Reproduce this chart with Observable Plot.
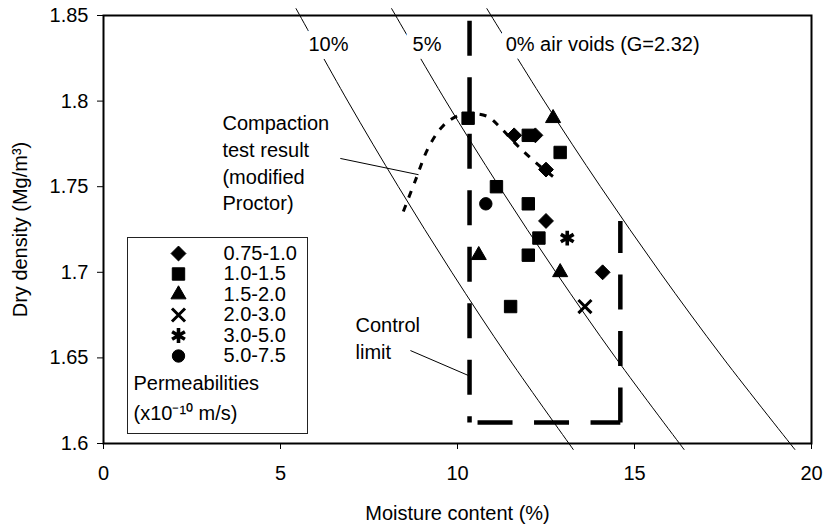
<!DOCTYPE html>
<html>
<head>
<meta charset="utf-8">
<script src="https://cdn.jsdelivr.net/npm/d3@7"></script>
<script src="https://cdn.jsdelivr.net/npm/@observablehq/plot@0.6"></script>
<style>
  html, body { margin: 0; padding: 0; background: #fff; }
  #chart svg { display: block; }
</style>
</head>
<body>
<div id="chart"></div>
<script>
// ---- Tick labels ----
const xTicks = [0, 5, 10, 15, 20];
const yTicks = [1.6, 1.65, 1.7, 1.75, 1.8, 1.85];

// ---- Legend categories (permeability, x10^-10 m/s) ----
const permLabels = ["0.75-1.0", "1.0-1.5", "1.5-2.0", "2.0-3.0", "3.0-5.0", "5.0-7.5"];

// ---- Measured points: moisture content (%) and dry density (Mg/m3) ----
const moistA = [11.6, 12.2, 12.5, 12.5, 14.1];            // 0.75-1.0 (diamond)
const densA  = [1.78, 1.78, 1.76, 1.73, 1.70];
const moistB = [10.3, 12.0, 12.9, 11.1, 12.0, 12.3, 12.0, 11.5]; // 1.0-1.5 (square)
const densB  = [1.79, 1.78, 1.77, 1.75, 1.74, 1.72, 1.71, 1.68];
const moistC = [12.7, 10.6, 12.9];                         // 1.5-2.0 (triangle)
const densC  = [1.79, 1.71, 1.70];
const moistD = [13.6];                                     // 2.0-3.0 (x)
const densD  = [1.68];
const moistE = [13.1];                                     // 3.0-5.0 (asterisk)
const densE  = [1.72];
const moistF = [10.8];                                     // 5.0-7.5 (circle)
const densF  = [1.74];

// ---- Air-void lines ----
const voidDens   = [1.854, 1.80, 1.75, 1.70, 1.65, 1.5965];
const void10Moist = [5.44, 6.90, 8.33, 9.84, 11.44, 13.27];
const void5Moist  = [8.14, 9.67, 11.18, 12.78, 14.47, 16.40];
const void0Moist  = [10.83, 12.45, 14.04, 15.72, 17.50, 19.53];

// ---- Compaction test result (modified Proctor) ----
const compMoist = [8.47, 8.81, 9.18, 9.60, 10.03, 10.37, 10.85, 11.21, 11.72, 12.34, 12.85];
const compDens  = [1.7355, 1.7536, 1.7729, 1.7857, 1.7916, 1.7928, 1.7910, 1.7846, 1.7735, 1.7618, 1.7536];

// ---- Control limit ----
const ctrlMoist = [10.34, 10.34, 14.6, 14.6];
const ctrlDens  = [1.847, 1.6123, 1.6123, 1.73];

const zip = (xs, ys) => xs.map((x, i) => ({x, y: ys[i]}));

const font = "'Liberation Sans', Arial, Helvetica, sans-serif";
const black = "#000";

const symDefs = [
  {symbol: "diamond2", r: 6.7, fill: black, stroke: black, sw: 1},
  {symbol: "square", r: 7, fill: black, stroke: black, sw: 1},
  {symbol: "triangle", r: 5.6, fill: black, stroke: black, sw: 1},
  {symbol: "times", r: 6, fill: "none", stroke: black, sw: 3},
  {symbol: "asterisk", r: 7, fill: "none", stroke: black, sw: 3.6},
  {symbol: "circle", r: 6.2, fill: black, stroke: black, sw: 1}
];
const seriesData = [
  zip(moistA, densA), zip(moistB, densB), zip(moistC, densC),
  zip(moistD, densD), zip(moistE, densE), zip(moistF, densF)
];

const marks = [];

// air-void lines
for (const ms of [void10Moist, void5Moist, void0Moist]) {
  marks.push(Plot.line(zip(ms, voidDens), {x: "x", y: "y", stroke: black, strokeWidth: 1, curve: "catmull-rom"}));
}

// air-void labels with white halo
const voidLabels = [
  {x: 5.79, y: 1.833, t: "10%"},
  {x: 8.73, y: 1.833, t: "5%"},
  {x: 11.36, y: 1.833, t: "0% air voids (G=2.32)"}
];
marks.push(Plot.text(voidLabels, {x: "x", y: "y", text: "t", textAnchor: "start", lineAnchor: "middle",
  fill: "white", stroke: "white", strokeWidth: 16, strokeLinejoin: "round", fontSize: 20}));
marks.push(Plot.text(voidLabels, {x: "x", y: "y", text: "t", textAnchor: "start", lineAnchor: "middle",
  fill: black, fontSize: 20}));

// compaction curve (dotted)
marks.push(Plot.line(zip(compMoist, compDens), {x: "x", y: "y", stroke: black, strokeWidth: 3,
  strokeDasharray: "7,8", strokeLinecap: "butt", curve: "catmull-rom"}));

// control limit (three dashed segments)
const ctrl = zip(ctrlMoist, ctrlDens);
marks.push(Plot.line(ctrl.slice(0, 2), {x: "x", y: "y", stroke: black, strokeWidth: 4.5,
  strokeDasharray: "35,21.5", strokeLinecap: "butt"}));
marks.push(Plot.line(ctrl.slice(1, 3), {x: "x", y: "y", stroke: black, strokeWidth: 4.5,
  strokeDasharray: "35,21.5", strokeDashoffset: 48.5, strokeLinecap: "butt"}));
marks.push(Plot.line([ctrl[2], ctrl[3]], {x: "x", y: "y", stroke: black, strokeWidth: 4.5,
  strokeDasharray: "35,21.5", strokeLinecap: "butt"}));

// leader lines
marks.push(Plot.link([{}], {x1: 6.69, y1: 1.7665, x2: 8.90, y2: 1.757, stroke: black, strokeWidth: 1}));
marks.push(Plot.link([{}], {x1: 8.67, y1: 1.6543, x2: 10.31, y2: 1.6397, stroke: black, strokeWidth: 1}));

// annotation text
marks.push(Plot.text(["Compaction\ntest result\n(modified\nProctor)"], {x: 3.36, y: 1.7647, text: d => d,
  textAnchor: "start", lineAnchor: "middle", lineHeight: 1.34, fontSize: 20, fill: black}));
marks.push(Plot.text(["Control\nlimit"], {x: 7.12, y: 1.6622, text: d => d,
  textAnchor: "start", lineAnchor: "middle", lineHeight: 1.35, fontSize: 20, fill: black}));

// data points
seriesData.forEach((data, i) => {
  const s = symDefs[i];
  marks.push(Plot.dot(data, {x: "x", y: "y", symbol: () => s.symbol, r: s.r, fill: s.fill,
    stroke: s.stroke, strokeWidth: s.sw}));
});

// legend box (inset from frame)
marks.push(Plot.frame({insetLeft: 24, insetTop: 222, insetRight: 504, insetBottom: 10,
  stroke: "#222", strokeWidth: 1}));
const rowDy = [238, 258.5, 279, 299.5, 320, 340.5];
permLabels.forEach((lab, i) => {
  const s = symDefs[i];
  marks.push(Plot.dot([lab], {frameAnchor: "top-left", dx: 75, dy: rowDy[i], symbol: () => s.symbol,
    r: s.r, fill: s.fill, stroke: s.stroke, strokeWidth: s.sw}));
  marks.push(Plot.text([lab], {frameAnchor: "top-left", dx: 120, dy: rowDy[i], text: d => d,
    textAnchor: "start", lineAnchor: "middle", fontSize: 20, fill: black}));
});
marks.push(Plot.text(["Permeabilities"], {frameAnchor: "top-left", dx: 30, dy: 368, text: d => d,
  textAnchor: "start", lineAnchor: "middle", fontSize: 20, fill: black}));
marks.push(Plot.text(["(x10\u207B\u00B9\u2070 m/s)"], {frameAnchor: "top-left", dx: 30, dy: 398, text: d => d,
  textAnchor: "start", lineAnchor: "middle", fontSize: 20, fill: black}));

// axis titles
marks.push(Plot.text(["Moisture content (%)"], {frameAnchor: "bottom", dy: 70, text: d => d,
  textAnchor: "middle", lineAnchor: "middle", fontSize: 20, fill: black}));
marks.push(Plot.text(["Dry density (Mg/m\u00B3)"], {frameAnchor: "left", dx: -83, rotate: -90, text: d => d,
  textAnchor: "middle", lineAnchor: "middle", fontSize: 20, fill: black}));

// axes and frame
marks.push(Plot.axisX({ticks: xTicks, tickSize: 6, tickPadding: 16, tickFormat: d => String(d), label: null, fontSize: 20}));
marks.push(Plot.axisY({ticks: yTicks, tickSize: 6, tickPadding: 9, tickFormat: d => String(d), label: null, fontSize: 20}));
marks.push(Plot.frame({stroke: black, strokeWidth: 2}));

const chart = Plot.plot({
  width: 825,
  height: 524,
  marginLeft: 103,
  marginRight: 14,
  marginTop: 15,
  marginBottom: 81,
  style: {fontFamily: font, fontSize: "20px", color: black, background: "white"},
  x: {domain: [0, 20]},
  y: {domain: [1.6, 1.85]},
  marks
});
document.getElementById("chart").appendChild(chart);
</script>
</body>
</html>
